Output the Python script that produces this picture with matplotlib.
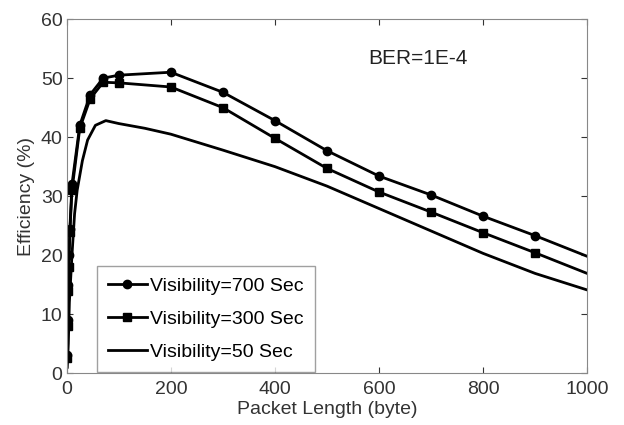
import numpy as np
import matplotlib.pyplot as plt

plt.rcParams['font.family'] = ['Liberation Sans', 'DejaVu Sans']

# packet length (byte) and efficiency (%) for each visibility
len_700 = [1, 2, 3, 4, 6, 10, 25, 45, 70, 100, 200, 300, 400, 500, 600, 700, 800, 900, 1000]
eff_700 = [3.0, 9.0, 15.0, 20.0, 24.5, 32.0, 42.0, 47.2, 50.0, 50.5, 51.0, 47.6, 42.8, 37.7, 33.4, 30.2, 26.6, 23.3, 19.8]

len_300 = [1, 2, 3, 4, 6, 10, 25, 45, 70, 100, 200, 300, 400, 500, 600, 700, 800, 900, 1000]
eff_300 = [2.5, 8.0, 14.0, 18.0, 24.0, 31.0, 41.5, 46.5, 49.3, 49.2, 48.5, 45.0, 39.8, 34.7, 30.7, 27.3, 23.8, 20.4, 16.9]

len_50 = [1, 3, 5, 10, 15, 20, 30, 40, 55, 75, 100, 150, 200, 300, 400, 500, 600, 700, 800, 900, 1000]
eff_50 = [1.0, 5.0, 12.0, 20.0, 27.0, 31.0, 36.0, 39.5, 42.0, 42.8, 42.3, 41.5, 40.5, 37.8, 35.0, 31.7, 27.9, 24.1, 20.3, 16.9, 14.1]

fig = plt.figure(figsize=(6.24, 4.25), dpi=100)
ax = fig.add_axes([0.107, 0.122, 0.834, 0.833])

mk = list(range(len(len_700) - 1))  # no marker on the last point
ax.plot(len_700, eff_700, '-o', color='k', lw=2, ms=6, markevery=mk, label='Visibility=700 Sec')
ax.plot(len_300, eff_300, '-s', color='k', lw=2, ms=6, markevery=mk, label='Visibility=300 Sec')
ax.plot(len_50, eff_50, '-', color='k', lw=2, label='Visibility=50 Sec')

ax.set_xlim(0, 1000)
ax.set_ylim(0, 60)
ax.set_xticks(np.arange(0, 1001, 200))
ax.set_yticks(np.arange(0, 61, 10))
ax.tick_params(direction='in', top=True, right=True, labelsize=14, colors='#333333', length=4)
ax.tick_params(axis='x', pad=6)
ax.tick_params(axis='y', pad=3)
for s in ax.spines.values():
    s.set_color('#888888')

ax.set_xlabel('Packet Length (byte)', fontsize=14, color='#333333', labelpad=2)
ax.set_ylabel('Efficiency (%)', fontsize=14, color='#333333', labelpad=4)
ax.text(579, 53.4, 'BER=1E-4', fontsize=15, ha='left', va='center', color='#222222')

leg = ax.legend(loc='lower left', bbox_to_anchor=(0.058, 0.004), fontsize=14, frameon=True,
                fancybox=False, edgecolor='#888888', handlelength=2.0, handletextpad=0.2,
                borderpad=0.55, labelspacing=0.8, borderaxespad=0)
leg.get_frame().set_linewidth(1.0)

fig.savefig('out.png', dpi=100)
